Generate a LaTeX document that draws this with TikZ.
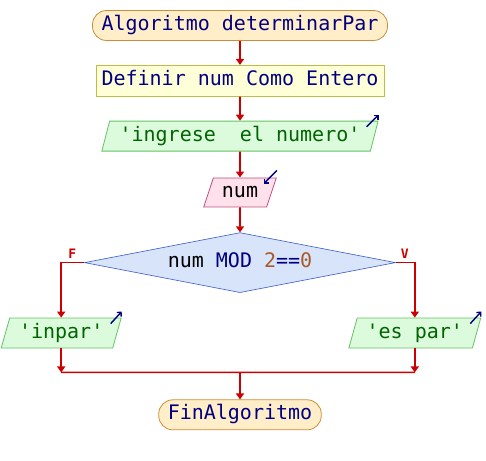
\documentclass[tikz,border=0pt]{standalone}
\usepackage{fontspec}
\setmonofont{DejaVu Sans Mono}
\setsansfont{DejaVu Sans}
\usetikzlibrary{shapes.geometric, arrows.meta, positioning}
\definecolor{flowred}{RGB}{204,0,0}
\definecolor{termfill}{RGB}{255,238,200}
\definecolor{termdraw}{RGB}{205,140,60}
\definecolor{boxfill}{RGB}{255,255,215}
\definecolor{boxdraw}{RGB}{190,190,70}
\definecolor{outfill}{RGB}{220,250,220}
\definecolor{outdraw}{RGB}{100,195,100}
\definecolor{outtext}{RGB}{0,100,0}
\definecolor{infill}{RGB}{255,225,235}
\definecolor{indraw}{RGB}{190,80,130}
\definecolor{condfill}{RGB}{215,228,250}
\definecolor{conddraw}{RGB}{60,90,200}
\definecolor{kwnavy}{RGB}{0,0,128}
\definecolor{numbrown}{RGB}{170,90,40}

\begin{document}
\begin{tikzpicture}[
    every node/.style={font=\ttfamily\fontsize{20}{24}\selectfont, text height=14pt, text depth=4pt},
    terminal/.style={rectangle, rounded corners=14pt, draw=termdraw, fill=termfill, text=kwnavy, inner xsep=9pt, inner ysep=0pt, minimum height=30pt, line width=0.8pt},
    procbox/.style={rectangle, draw=boxdraw, fill=boxfill, text=kwnavy, inner xsep=5.5pt, inner ysep=0pt, minimum height=31pt, line width=0.8pt},
    outp/.style={trapezium, trapezium left angle=68, trapezium right angle=112, trapezium stretches=true, draw=outdraw, fill=outfill, text=outtext, inner xsep=2pt, inner ysep=0pt, minimum height=30pt, line width=0.8pt},
    inp/.style={outp, draw=indraw, fill=infill, text=black, minimum height=29pt},
    cond/.style={diamond, aspect=5.2, draw=conddraw, fill=condfill, inner sep=0pt, minimum width=311pt, minimum height=60pt, line width=0.6pt},
    arrow/.style={line width=1.6pt, draw=flowred, -{Triangle[length=6pt,width=8pt]}},
    flow/.style={line width=1.6pt, draw=flowred},
    io/.style={line width=1.4pt, draw=kwnavy, -{Straight Barb[length=3pt,width=6pt]}},
    branch/.style={font=\ttfamily\bfseries\fontsize{13}{15}\selectfont, text=flowred, inner sep=0pt, text height=9pt, text depth=0pt}
]
\useasboundingbox (0,0) rectangle (486pt,-460pt);

% Nodes (top to bottom)
\node[terminal] (start) at (240pt,-25.5pt) {Algoritmo determinarPar};
\node[procbox, below=24pt of start] (def) {Definir num Como Entero};
\node[outp, below=24pt of def, minimum width=277pt] (msg) {'ingrese\ \ el numero'};
\node[inp, below=26pt of msg, minimum width=73pt] (rd) {num};
\node[cond, below=25pt of rd] (test) {num \textcolor{kwnavy}{MOD} \textcolor{numbrown}{2}\textcolor{kwnavy}{==}\textcolor{numbrown}{0}};

\node[outp, below=55pt of test.west, xshift=-23pt, minimum width=120pt] (inpar) {'inpar'};
\node[outp, below=55pt of test.east, xshift=19pt, minimum width=132pt] (espar) {'es par'};

\coordinate[below=24pt of inpar.south] (jl);
\coordinate[below=24pt of espar.south] (jr);
\coordinate (jm) at (jl -| test.south);

\node[terminal, below=27pt of jm] (fin) {FinAlgoritmo};

% Straight arrows
\draw[arrow] (start) -- (def);
\draw[arrow] (def) -- (msg);
\draw[arrow] (msg) -- (rd);
\draw[arrow] (rd) -- (test);

% Branches
\draw[arrow] (test.west) -| (inpar.north);
\draw[arrow] (test.east) -| (espar.north);
\node[branch] at ([xshift=-12pt,yshift=9pt]test.west) {F};
\node[branch] at ([xshift=9pt,yshift=9pt]test.east) {V};

% Join
\draw[arrow] (inpar.south) -- (jl);
\draw[arrow] (espar.south) -- (jr);
\draw[flow] (jl) -- (jr);
\draw[arrow] (jm) -- (fin);

% in/out marks
\draw[io] ([shift={(-12pt,-6pt)}]msg.top right corner) -- ([shift={(0pt,6pt)}]msg.top right corner);
\draw[io] ([shift={(0pt,7pt)}]rd.top right corner) -- ([shift={(-13pt,-6pt)}]rd.top right corner);
\draw[io] ([shift={(-11pt,-6pt)}]inpar.top right corner) -- ([shift={(0pt,6pt)}]inpar.top right corner);
\draw[io] ([shift={(-11pt,-6pt)}]espar.top right corner) -- ([shift={(0pt,6pt)}]espar.top right corner);

\end{tikzpicture}
\end{document}
